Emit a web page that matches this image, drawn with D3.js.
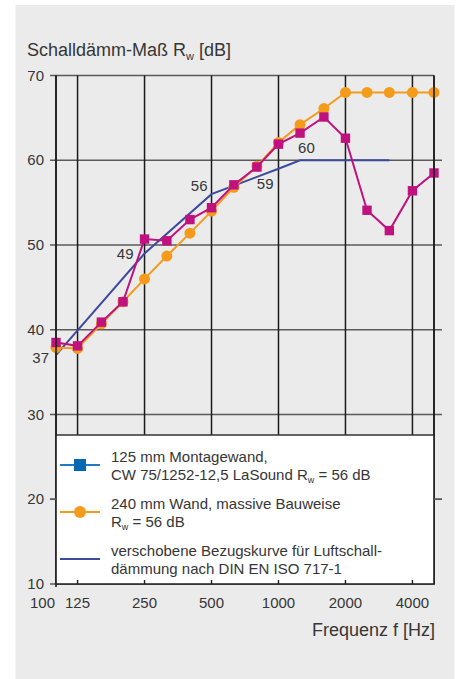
<!DOCTYPE html>
<html>
<head>
<meta charset="utf-8">
<script src="https://cdn.jsdelivr.net/npm/d3@7.9.0/dist/d3.min.js"></script>
<style>
  body { margin: 0; background: #fff; }
  svg { display: block; font-family: "Liberation Sans", Arial, sans-serif; }
  text { fill: #363636; }
</style>
</head>
<body>
<svg id="chart" width="459" height="679"></svg>
<script>
// third-octave band centre frequencies
const freqs = [100, 125, 160, 200, 250, 315, 400, 500, 630, 800, 1000, 1250, 1600, 2000, 2500, 3150, 4000, 5000];

// 125 mm Montagewand (magenta squares)
const montageWand = [38.5, 38.1, 40.9, 43.3, 50.7, 50.5, 53.0, 54.4, 57.1, 59.2, 61.9, 63.2, 65.1, 62.6, 54.1, 51.7, 56.4, 58.5];

// 240 mm Wand massiv (orange circles)
const massivWand = [37.9, 37.8, 40.7, 43.3, 46.0, 48.7, 51.4, 54.0, 56.8, 59.3, 62.1, 64.2, 66.1, 68, 68, 68, 68, 68];

// shifted reference curve, drawn through its knee points
const refFreqs = [100, 250, 500, 1000, 1250, 3150];
const refCurve = [37, 49, 56, 59, 60, 60];
const refLabelFreqs = [100, 250, 500, 1000, 1250];

const xTicks = [100, 125, 250, 500, 1000, 2000, 4000];
const yTicks = [10, 20, 30, 40, 50, 60, 70];

const svg = d3.select('#chart');

svg.append('rect')
  .attr('x', 15.5).attr('y', 5)
  .attr('width', 439).attr('height', 674)
  .attr('fill', '#ebebeb');

const x = d3.scaleLog().domain([100, 5000]).range([56, 434]);
const y = d3.scaleLinear().domain([10, 70]).range([584, 75.5]);

// horizontal grid lines (extend a bit out of the frame)
svg.append('g').selectAll('line')
  .data(yTicks)
  .join('line')
  .attr('x1', 50)
  .attr('x2', d => (d === 70 || d === 10) ? 434 : 442)
  .attr('y1', d => y(d)).attr('y2', d => y(d))
  .attr('stroke', '#5a5a5a')
  .attr('stroke-width', 1.6);

// vertical grid lines
svg.append('g').selectAll('line')
  .data(xTicks.concat([5000]))
  .join('line')
  .attr('x1', d => x(d)).attr('x2', d => x(d))
  .attr('y1', y(70)).attr('y2', y(10))
  .attr('stroke', '#1a1a1a')
  .attr('stroke-width', 1.5);

// y labels
svg.append('g').selectAll('text')
  .data(yTicks)
  .join('text')
  .attr('x', 44)
  .attr('y', d => y(d) + 5)
  .attr('text-anchor', 'end')
  .attr('font-size', 15)
  .text(d => d);

// x labels
svg.append('g').selectAll('text')
  .data(xTicks)
  .join('text')
  .attr('x', d => d === 100 ? x(d) - 1 : x(d))
  .attr('y', 607.5)
  .attr('text-anchor', d => d === 100 ? 'end' : 'middle')
  .attr('font-size', 15)
  .text(d => d);

// title and axis caption
const title = svg.append('text')
  .attr('x', 27).attr('y', 55.5)
  .attr('font-size', 18);
title.append('tspan').text('Schalldämm-Maß R');
title.append('tspan').attr('font-size', 11).attr('dy', 4).text('w');
title.append('tspan').attr('dy', -4).text(' [dB]');

svg.append('text')
  .attr('x', 435).attr('y', 636)
  .attr('text-anchor', 'end')
  .attr('font-size', 18)
  .text('Frequenz f [Hz]');

// curves
const line = d3.line().x(d => x(d[0])).y(d => y(d[1]));

const refData = d3.zip(refFreqs, refCurve);
svg.append('path')
  .attr('d', line(refData))
  .attr('fill', 'none')
  .attr('stroke', '#3e4a9b')
  .attr('stroke-width', 2);

const orangeData = d3.zip(freqs, massivWand);
svg.append('path')
  .attr('d', line(orangeData))
  .attr('fill', 'none')
  .attr('stroke', '#f49b1c')
  .attr('stroke-width', 2);
svg.append('g').selectAll('circle')
  .data(orangeData)
  .join('circle')
  .attr('cx', d => x(d[0])).attr('cy', d => y(d[1]))
  .attr('r', 5.5)
  .attr('fill', '#f49b1c');

const pinkData = d3.zip(freqs, montageWand);
svg.append('path')
  .attr('d', line(pinkData))
  .attr('fill', 'none')
  .attr('stroke', '#c0127f')
  .attr('stroke-width', 2);
svg.append('g').selectAll('rect')
  .data(pinkData)
  .join('rect')
  .attr('x', d => x(d[0]) - 4.7).attr('y', d => y(d[1]) - 4.7)
  .attr('width', 9.4).attr('height', 9.4)
  .attr('fill', '#c0127f');

// reference curve value labels
const labelOffsets = {
  100: [-7, 8, 'end'],
  250: [-11, 6, 'end'],
  500: [-4, -3.5, 'end'],
  1000: [-5, 20.5, 'end'],
  1250: [-2, -7.5, 'start']
};
svg.append('g').selectAll('text')
  .data(refLabelFreqs)
  .join('text')
  .attr('x', d => x(d) + labelOffsets[d][0])
  .attr('y', d => y(refCurve[refFreqs.indexOf(d)]) + labelOffsets[d][1])
  .attr('text-anchor', d => labelOffsets[d][2])
  .attr('font-size', 15)
  .text(d => refCurve[refFreqs.indexOf(d)]);

// legend box
const lg = svg.append('g');
lg.append('rect')
  .attr('x', x(100)).attr('y', 435)
  .attr('width', x(5000) - x(100)).attr('height', y(10) - 435)
  .attr('fill', '#fff');
lg.append('line')
  .attr('x1', x(100)).attr('x2', x(5000))
  .attr('y1', 435).attr('y2', 435)
  .attr('stroke', '#333').attr('stroke-width', 1.4);

// frame and axis ticks on top of the legend
svg.append('line')
  .attr('x1', x(100)).attr('x2', x(100))
  .attr('y1', y(70)).attr('y2', y(10) + 3)
  .attr('stroke', '#1e1e1e').attr('stroke-width', 1.6);
svg.append('line')
  .attr('x1', x(5000)).attr('x2', x(5000))
  .attr('y1', y(70)).attr('y2', y(10))
  .attr('stroke', '#1e1e1e').attr('stroke-width', 1.6);
svg.append('line')
  .attr('x1', x(100)).attr('x2', x(5000) + 1)
  .attr('y1', y(10)).attr('y2', y(10))
  .attr('stroke', '#1e1e1e').attr('stroke-width', 1.6);
svg.append('g').selectAll('line')
  .data(xTicks.slice(1))
  .join('line')
  .attr('x1', d => x(d)).attr('x2', d => x(d))
  .attr('y1', y(10)).attr('y2', y(10) - 4)
  .attr('stroke', '#1e1e1e').attr('stroke-width', 1.4);
svg.append('line')
  .attr('x1', x(5000)).attr('x2', 442)
  .attr('y1', y(20)).attr('y2', y(20))
  .attr('stroke', '#5a5a5a').attr('stroke-width', 1.6);
svg.append('line')
  .attr('x1', 50).attr('x2', x(100))
  .attr('y1', y(20)).attr('y2', y(20))
  .attr('stroke', '#5a5a5a').attr('stroke-width', 1.6);

// legend entries
const legendItems = [
  { kind: 'square', line: '#1f7bc8', mark: '#0767b3',
    rows: [['125 mm Montagewand,'], ['CW 75/1252-12,5 LaSound R', 'w', ' = 56 dB']] },
  { kind: 'circle', line: '#f49b1c', mark: '#f49b1c',
    rows: [['240 mm Wand, massive Bauweise'], ['R', 'w', ' = 56 dB']] },
  { kind: 'none', line: '#3e4a9b', mark: null,
    rows: [['verschobene Bezugskurve für Luftschall-'], ['dämmung nach DIN EN ISO 717-1']] }
];

legendItems.forEach((item, i) => {
  const cy = 465 + i * 47;
  lg.append('line')
    .attr('x1', 60).attr('x2', 100)
    .attr('y1', cy).attr('y2', cy)
    .attr('stroke', item.line).attr('stroke-width', 2.2);
  if (item.kind === 'square') {
    lg.append('rect')
      .attr('x', 74).attr('y', cy - 6)
      .attr('width', 12).attr('height', 12)
      .attr('fill', item.mark);
  } else if (item.kind === 'circle') {
    lg.append('circle')
      .attr('cx', 80).attr('cy', cy)
      .attr('r', 6)
      .attr('fill', item.mark);
  }
  item.rows.forEach((row, j) => {
    const t = lg.append('text')
      .attr('x', 111)
      .attr('y', cy - 3.5 + j * 18)
      .attr('font-size', 15);
    t.append('tspan').text(row[0]);
    if (row.length > 1) {
      t.append('tspan').attr('font-size', 9).attr('dy', 3).text(row[1]);
      t.append('tspan').attr('dy', -3).text(row[2]);
    }
  });
});
</script>
</body>
</html>
